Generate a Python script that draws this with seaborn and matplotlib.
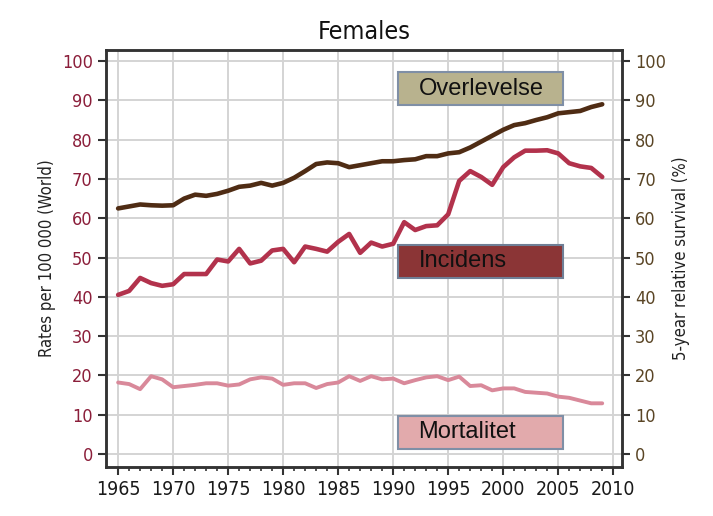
import matplotlib
matplotlib.use("Agg")
import matplotlib.pyplot as plt
from matplotlib.patches import Rectangle
import pandas as pd
import seaborn as sns

years = list(range(1965, 2010))

overlevelse = [62.5, 63.0, 63.5, 63.3, 63.2, 63.3, 65.0, 66.0, 65.7, 66.2,
               67.0, 68.0, 68.3, 69.0, 68.3, 69.0, 70.3, 72.0, 73.8, 74.2,
               74.0, 73.0, 73.5, 74.0, 74.5, 74.5, 74.8, 75.0, 75.8, 75.8,
               76.5, 76.8, 78.0, 79.5, 81.0, 82.5, 83.7, 84.2, 85.0, 85.7,
               86.7, 87.0, 87.3, 88.3, 89.0]
incidens = [40.5, 41.5, 44.8, 43.5, 42.8, 43.2, 45.8, 45.8, 45.8, 49.5,
            49.0, 52.2, 48.5, 49.2, 51.8, 52.2, 48.8, 52.8, 52.2, 51.5,
            54.0, 56.0, 51.2, 53.8, 52.8, 53.5, 59.0, 57.0, 58.0, 58.2,
            61.0, 69.5, 72.0, 70.5, 68.5, 73.0, 75.5, 77.2, 77.2, 77.3,
            76.5, 74.0, 73.2, 72.8, 70.5]
mortalitet = [18.2, 17.8, 16.5, 19.8, 19.0, 17.0, 17.3, 17.6, 18.0, 18.0,
              17.4, 17.7, 19.0, 19.5, 19.2, 17.6, 18.0, 18.0, 16.8, 17.8,
              18.2, 19.8, 18.6, 19.8, 19.0, 19.2, 18.0, 18.8, 19.5, 19.8,
              18.8, 19.7, 17.3, 17.5, 16.2, 16.7, 16.7, 15.8, 15.6, 15.4,
              14.6, 14.3, 13.6, 12.9, 12.9]

x_ticks = list(range(1965, 2011, 5))
y_ticks = list(range(0, 101, 10))

df = pd.DataFrame({"year": years, "Overlevelse": overlevelse,
                   "Incidens": incidens, "Mortalitet": mortalitet})

sns.set_style("white")
plt.rcParams["font.family"] = ["DejaVu Sans"]
plt.rcParams["font.stretch"] = "condensed"

fig = plt.figure(figsize=(7.13, 5.16), dpi=100)
ax = fig.add_axes([0.1487, 0.095, 0.7237, 0.808])

colors = {"Overlevelse": "#4f2c14", "Incidens": "#b2324c", "Mortalitet": "#d9899a"}
for name in ["Overlevelse", "Incidens", "Mortalitet"]:
    sns.lineplot(data=df, x="year", y=name, ax=ax, color=colors[name],
                 linewidth=3.3 if name != "Mortalitet" else 2.8, zorder=3)

ax.set_xlim(1963.9, 2010.8)
ax.set_ylim(-3.3, 102.8)
ax.set_xticks(x_ticks)
ax.set_xticks(years + [2010], minor=True)
ax.set_yticks(y_ticks)
ax.grid(True, color="#d4d4d4", linewidth=1.4, zorder=0)
ax.set_axisbelow(True)
ax.set_xlabel("")
ax.set_ylabel("Rates per 100 000 (World)", fontsize=12, color="#222222")
for s in ax.spines.values():
    s.set_color("#333333")
    s.set_linewidth(1.8)
ax.tick_params(axis="x", which="major", direction="out", length=6, width=1.5,
               labelsize=14, colors="#333333", labelcolor="#1a1a1a", bottom=True)
ax.tick_params(axis="x", which="minor", direction="out", length=3, width=1.2,
               colors="#333333", bottom=True)
ax.tick_params(axis="y", direction="out", length=6, width=1.5, labelsize=13,
               colors="#333333", labelcolor="#8b1e3a", left=True)

ax2 = ax.twinx()
ax2.set_ylim(ax.get_ylim())
ax2.set_yticks(y_ticks)
ax2.tick_params(axis="y", direction="out", length=6, width=1.5, labelsize=13,
                colors="#333333", labelcolor="#5a4525", right=True)
ax2.set_ylabel("5-year relative survival (%)", fontsize=12, color="#222222")
for s in ax2.spines.values():
    s.set_color("#333333")
    s.set_linewidth(1.8)

boxes = [("Overlevelse", 88.8, "#b8b28e", "#7f8fa6"),
         ("Incidens", 44.8, "#8b3536", "#6f7f96"),
         ("Mortalitet", 1.3, "#e2aaac", "#7f8fa6")]
for label, y0, fc, ec in boxes:
    ax.add_patch(Rectangle((1990.4, y0), 15.0, 8.4, facecolor=fc,
                           edgecolor=ec, linewidth=1.5, zorder=4))
    ax.text(1992.3, y0 + 4.2, label, ha="left", va="center", fontsize=17,
            family=["Liberation Sans", "DejaVu Sans"], stretch="normal",
            color="#111111", zorder=5)

ax.set_title("Females", fontsize=18, color="#111111", pad=8)

fig.savefig("out.png", dpi=100)
